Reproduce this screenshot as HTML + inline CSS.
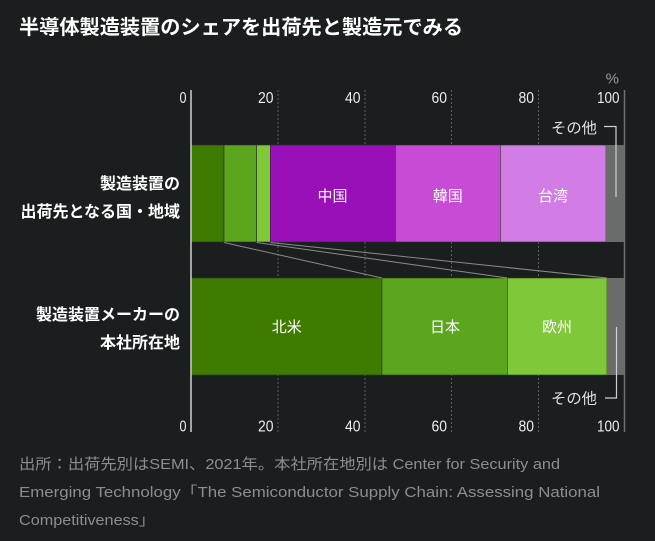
<!DOCTYPE html>
<html>
<head>
<meta charset="utf-8">
<style>
html,body{margin:0;padding:0;background:#1b1e1f;}
body{width:655px;height:541px;overflow:hidden;}
svg{display:block;}
text{font-family:"Liberation Sans","Noto Sans CJK JP",sans-serif;}
</style>
</head>
<body>
<svg width="655" height="541" viewBox="0 0 655 541" xmlns="http://www.w3.org/2000/svg">
<rect x="0" y="0" width="655" height="541" fill="#1b1e1f"/>

<!-- Title -->
<text x="19" y="34" font-size="20" font-weight="bold" fill="#ffffff" textLength="444" lengthAdjust="spacingAndGlyphs">半導体製造装置のシェアを出荷先と製造元でみる</text>

<!-- gridlines -->
<g stroke="#5a5d5e" stroke-width="1" stroke-dasharray="2,2">
<line x1="278" y1="90" x2="278" y2="432"/>
<line x1="365" y1="90" x2="365" y2="432"/>
<line x1="451.5" y1="90" x2="451.5" y2="432"/>
<line x1="538.5" y1="90" x2="538.5" y2="432"/>
</g>
<line x1="624.5" y1="90" x2="624.5" y2="432" stroke="#6e7070" stroke-width="1.5"/>

<!-- Top bar -->
<g stroke="#2a2a2a" stroke-width="0.6">
<rect x="191" y="145" width="33" height="97" fill="#3f7b00"/>
<rect x="224" y="145" width="32.7" height="97" fill="#5ba51f"/>
<rect x="256.7" y="145" width="13.6" height="97" fill="#7fc83a"/>
<rect x="270.3" y="145" width="125" height="97" fill="#9a10b8"/>
<rect x="395.3" y="145" width="105" height="97" fill="#c84bd6"/>
<rect x="500.3" y="145" width="105.7" height="97" fill="#d27de5"/>
</g>
<rect x="606" y="145" width="18.5" height="97" fill="#6a6c6c"/>

<!-- Bottom bar -->
<g stroke="#2a3a1a" stroke-width="0.6">
<rect x="191" y="278" width="191" height="97" fill="#3f7b00"/>
<rect x="382" y="278" width="125.3" height="97" fill="#5ba51f"/>
<rect x="507.3" y="278" width="99.7" height="97" fill="#7fc83a"/>
</g>
<rect x="607" y="278" width="17.5" height="97" fill="#6a6c6c"/>

<!-- axis 0 line -->
<line x1="191" y1="90" x2="191" y2="432" stroke="#cfcfcf" stroke-width="1.5"/>

<!-- connecting lines -->
<g stroke="#8a8c8c" stroke-width="1" fill="none">
<line x1="224" y1="242.5" x2="382" y2="278"/>
<line x1="256.7" y1="242.5" x2="507.3" y2="278"/>
<line x1="270.3" y1="242.5" x2="607" y2="278"/>
</g>

<!-- bar labels -->
<g font-size="15" fill="#ffffff" text-anchor="middle">
<text x="332.5" y="201">中国</text>
<text x="447.7" y="201">韓国</text>
<text x="553" y="201">台湾</text>
<text x="286.7" y="332">北米</text>
<text x="445" y="332">日本</text>
<text x="557" y="332">欧州</text>
</g>

<!-- left labels -->
<g font-size="16" font-weight="bold" fill="#ffffff" text-anchor="end">
<text x="180" y="189">製造装置の</text>
<text x="180" y="217">出荷先となる国・地域</text>
<text x="180" y="320">製造装置メーカーの</text>
<text x="180" y="348">本社所在地</text>
</g>

<!-- tick labels top -->
<g font-size="16" fill="#ececec" text-anchor="end">
<text x="186.5" y="103" textLength="7" lengthAdjust="spacingAndGlyphs">0</text>
<text x="273.5" y="103" textLength="15.5" lengthAdjust="spacingAndGlyphs">20</text>
<text x="360.5" y="103" textLength="15.5" lengthAdjust="spacingAndGlyphs">40</text>
<text x="447" y="103" textLength="15.5" lengthAdjust="spacingAndGlyphs">60</text>
<text x="534" y="103" textLength="15.5" lengthAdjust="spacingAndGlyphs">80</text>
<text x="619.5" y="103" textLength="22.5" lengthAdjust="spacingAndGlyphs">100</text>
</g>
<!-- tick labels bottom -->
<g font-size="16" fill="#ececec" text-anchor="end">
<text x="186.5" y="431.5" textLength="7" lengthAdjust="spacingAndGlyphs">0</text>
<text x="273.5" y="431.5" textLength="15.5" lengthAdjust="spacingAndGlyphs">20</text>
<text x="360.5" y="431.5" textLength="15.5" lengthAdjust="spacingAndGlyphs">40</text>
<text x="447" y="431.5" textLength="15.5" lengthAdjust="spacingAndGlyphs">60</text>
<text x="534" y="431.5" textLength="15.5" lengthAdjust="spacingAndGlyphs">80</text>
<text x="619.5" y="431.5" textLength="22.5" lengthAdjust="spacingAndGlyphs">100</text>
</g>
<text x="619" y="83.5" font-size="15" fill="#9a9a9a" text-anchor="end">%</text>

<!-- その他 annotations -->
<g font-size="15" fill="#e0e0e0">
<text x="551" y="133" textLength="46" lengthAdjust="spacingAndGlyphs">その他</text>
<text x="551" y="403.5" textLength="46" lengthAdjust="spacingAndGlyphs">その他</text>
</g>
<g stroke="#d0d0d0" stroke-width="1.2" fill="none">
<polyline points="604,126.5 616,126.5 616,197"/>
<polyline points="616.5,327 616.5,398 605,398"/>
</g>

<!-- footer -->
<g font-size="15" fill="#8c8e8e">
<text x="19" y="469" textLength="541" lengthAdjust="spacingAndGlyphs">出所：出荷先別はSEMI、2021年。本社所在地別は Center for Security and</text>
<text x="19" y="497" textLength="581" lengthAdjust="spacingAndGlyphs">Emerging Technology「The Semiconductor Supply Chain: Assessing National</text>
<text x="19" y="525" textLength="136" lengthAdjust="spacingAndGlyphs">Competitiveness」</text>
</g>
</svg>
</body>
</html>
